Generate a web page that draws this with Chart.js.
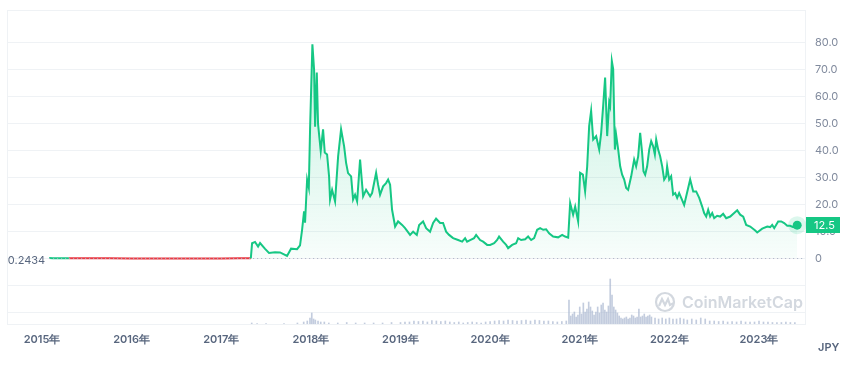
<!DOCTYPE html>
<html>
<head>
<meta charset="utf-8">
<script src="https://cdn.jsdelivr.net/npm/chart.js@4.4.1/dist/chart.umd.min.js"></script>
<style>
  html, body { margin: 0; padding: 0; background: #ffffff; }
  #wrap { width: 864px; height: 371px; position: relative; }
</style>
</head>
<body>
<div id="wrap"><canvas id="c" width="864" height="371"></canvas></div>
<script>
// ---------- DATA ----------
const BASE_PRICE = 0.2434;
const LAST_LABEL = '12.5';
const CURRENCY = 'JPY';
const WATERMARK = 'CoinMarketCap';
const yearTicks = [2015, 2016, 2017, 2018, 2019, 2020, 2021, 2022, 2023];
const priceTicks = [-20, -10, 0, 10, 20, 30, 40, 50, 60, 70, 80];

// dates as decimal years, prices in JPY
const dates = [
  2015.08, 2015.12, 2015.30, 2015.50, 2015.75, 2016.00, 2016.25, 2016.50, 2016.75, 2017.00, 2017.20, 2017.33,
  2017.344, 2017.377, 2017.411, 2017.433, 2017.489, 2017.533, 2017.600, 2017.656, 2017.734, 2017.779, 2017.846, 2017.879,
  2017.902, 2017.924, 2017.935, 2017.958, 2017.977, 2017.991, 2018.017, 2018.036, 2018.047, 2018.066, 2018.080, 2018.110,
  2018.136, 2018.155, 2018.181, 2018.203, 2018.214, 2018.237, 2018.270, 2018.304, 2018.337, 2018.371, 2018.393, 2018.415,
  2018.449, 2018.471, 2018.493, 2018.516, 2018.549, 2018.583, 2018.616, 2018.661, 2018.683, 2018.728, 2018.750, 2018.772,
  2018.806, 2018.839, 2018.862, 2018.884, 2018.906, 2018.940, 2018.973, 2019.018, 2019.051, 2019.107, 2019.141, 2019.182,
  2019.208, 2019.252, 2019.286, 2019.330, 2019.364, 2019.397, 2019.442, 2019.475, 2019.509, 2019.542, 2019.587, 2019.643,
  2019.688, 2019.721, 2019.743, 2019.777, 2019.821, 2019.844, 2019.888, 2019.922, 2019.967, 2020.000, 2020.045, 2020.078,
  2020.100, 2020.145, 2020.179, 2020.201, 2020.246, 2020.290, 2020.313, 2020.346, 2020.391, 2020.424, 2020.458, 2020.491,
  2020.525, 2020.558, 2020.592, 2020.625, 2020.658, 2020.703, 2020.759, 2020.804, 2020.837, 2020.871, 2020.893, 2020.926,
  2020.949, 2020.982, 2021.004, 2021.035, 2021.060, 2021.083, 2021.105, 2021.127, 2021.150, 2021.183, 2021.217, 2021.239,
  2021.261, 2021.283, 2021.306, 2021.328, 2021.339, 2021.358, 2021.373, 2021.392, 2021.406, 2021.429, 2021.451, 2021.473,
  2021.496, 2021.518, 2021.540, 2021.574, 2021.607, 2021.629, 2021.652, 2021.674, 2021.696, 2021.711, 2021.730, 2021.752,
  2021.775, 2021.797, 2021.819, 2021.838, 2021.853, 2021.875, 2021.897, 2021.920, 2021.942, 2021.964, 2021.975, 2021.998,
  2022.020, 2022.042, 2022.065, 2022.087, 2022.109, 2022.132, 2022.165, 2022.188, 2022.232, 2022.266, 2022.299, 2022.333,
  2022.366, 2022.388, 2022.411, 2022.433, 2022.455, 2022.478, 2022.500, 2022.533, 2022.567, 2022.600, 2022.634, 2022.679,
  2022.723, 2022.757, 2022.790, 2022.824, 2022.857, 2022.902, 2022.958, 2022.980, 2023.036, 2023.092, 2023.125, 2023.147,
  2023.170, 2023.214, 2023.248, 2023.281, 2023.315, 2023.348, 2023.382, 2023.426
];
const prices = [
  0.30, 0.25, 0.23, 0.22, 0.21, 0.20, 0.19, 0.17, 0.18, 0.20, 0.21, 0.22,
  5.8, 6.3, 4.6, 5.9, 3.7, 2.2, 2.5, 2.4, 1.1, 3.8, 3.6, 5.0,
  10.8, 17.6, 13.4, 29.4, 26.4, 48.0, 79.5, 70.0, 49.0, 69.0, 50.0, 40.0,
  48.0, 39.4, 38.7, 30.6, 22.0, 25.6, 21.3, 38.0, 48.0, 41.7, 35.6, 31.8,
  30.6, 22.0, 23.8, 21.3, 36.8, 23.2, 25.6, 23.2, 24.4, 31.9, 27.5, 23.8,
  26.9, 28.1, 29.4, 27.5, 18.2, 12.0, 13.9, 12.6, 11.4, 8.9, 10.1, 8.9,
  12.6, 13.9, 11.4, 10.1, 13.3, 14.9, 13.3, 13.3, 10.1, 8.9, 7.7, 7.0,
  6.4, 7.7, 6.4, 7.0, 7.7, 8.9, 7.0, 6.4, 5.2, 5.2, 5.8, 7.0,
  8.3, 6.4, 5.2, 4.0, 5.2, 5.8, 7.7, 7.0, 7.3, 8.3, 7.0, 7.7,
  10.8, 11.4, 10.8, 11.0, 9.5, 8.3, 8.0, 8.9, 8.3, 7.9, 20.7, 16.4,
  19.4, 13.9, 31.9, 31.2, 25.0, 34.3, 49.2, 54.8, 44.2, 45.5, 40.5, 46.7,
  56.6, 67.2, 45.5, 57.9, 56.6, 73.3, 70.3, 40.5, 46.0, 40.5, 34.3, 31.2,
  29.4, 26.3, 25.6, 30.6, 36.8, 34.3, 38.0, 46.7, 39.3, 32.5, 31.2, 34.3,
  40.5, 43.6, 41.7, 38.7, 44.2, 40.5, 38.0, 34.3, 29.4, 30.6, 34.3, 29.4,
  30.6, 23.8, 24.4, 22.6, 24.4, 22.6, 20.0, 23.2, 29.4, 25.0, 25.0, 22.6,
  19.4, 17.0, 15.7, 18.2, 15.7, 17.0, 15.1, 16.0, 15.7, 16.7, 15.1, 15.7,
  17.0, 18.0, 16.4, 15.7, 12.6, 12.0, 10.5, 9.8, 11.2, 12.0, 11.8, 12.6,
  11.4, 13.9, 13.9, 13.3, 12.3, 12.3, 11.8, 12.5
];

// relative trading volume (arbitrary units)
const volDates = [
  2017.34, 2017.40, 2017.50, 2017.70, 2017.85, 2017.92, 2017.96, 2017.99, 2018.01, 2018.03, 2018.05, 2018.08,
  2018.11, 2018.15, 2018.20, 2018.30, 2018.40, 2018.50, 2018.60, 2018.70, 2018.80, 2018.90, 2019.00, 2019.05,
  2019.10, 2019.15, 2019.20, 2019.25, 2019.30, 2019.35, 2019.40, 2019.45, 2019.50, 2019.55, 2019.60, 2019.65,
  2019.70, 2019.75, 2019.80, 2019.85, 2019.90, 2019.95, 2020.00, 2020.05, 2020.10, 2020.15, 2020.20, 2020.25,
  2020.30, 2020.35, 2020.40, 2020.45, 2020.50, 2020.55, 2020.60, 2020.65, 2020.70, 2020.75, 2020.80, 2020.85,
  2020.88, 2020.90, 2020.92, 2020.94, 2020.96, 2020.98, 2021.00, 2021.02, 2021.04, 2021.06, 2021.08, 2021.10,
  2021.12, 2021.14, 2021.16, 2021.18, 2021.20, 2021.22, 2021.24, 2021.26, 2021.28, 2021.30, 2021.32, 2021.34,
  2021.36, 2021.38, 2021.40, 2021.42, 2021.44, 2021.46, 2021.48, 2021.50, 2021.52, 2021.54, 2021.56, 2021.58,
  2021.60, 2021.62, 2021.64, 2021.66, 2021.68, 2021.70, 2021.72, 2021.74, 2021.76, 2021.78, 2021.80, 2021.84,
  2021.88, 2021.92, 2021.96, 2022.00, 2022.04, 2022.08, 2022.12, 2022.16, 2022.20, 2022.25, 2022.30, 2022.35,
  2022.40, 2022.45, 2022.50, 2022.55, 2022.60, 2022.65, 2022.70, 2022.75, 2022.80, 2022.85, 2022.90, 2022.95,
  2023.00, 2023.05, 2023.10, 2023.15, 2023.20, 2023.25, 2023.30, 2023.35, 2023.40
];
const volumes = [
  1, 0.5, 0.5, 0.5, 1, 2, 3, 6, 11, 5, 4, 3,
  2, 2, 1, 1, 1.5, 1, 1, 1, 1, 1.5, 1.5, 2,
  2, 3, 2.5, 3, 2, 3.5, 3, 2.5, 3, 2, 1.5, 2,
  1, 1.5, 2, 1.5, 1, 2, 2.5, 3, 3.5, 3, 4, 3.5,
  3, 3.5, 4, 3, 4, 3.5, 3, 3, 2.5, 2, 2.5, 3,
  24, 8, 10, 12, 7, 9, 17, 10, 21, 12, 15, 22,
  17, 13, 9, 12, 17, 11, 19, 21, 14, 12, 18, 45,
  29, 17, 14, 11, 8, 6, 5, 6, 7, 5, 6, 9,
  8, 6, 7, 15, 7, 8, 10, 7, 8, 9, 7, 6,
  5, 6, 5, 6, 5, 5, 6, 5, 4, 5, 4, 6,
  5, 3, 3, 2.5, 3, 2, 2.5, 2, 3, 2, 2, 2,
  3, 2, 2, 1.5, 1.5, 1.5, 2, 1.5, 1.5
];

// ---------- STYLE ----------
const GREEN = '#16c784';
const RED = '#ea3943';
const GRID = '#eff2f5';
const FONT = 'Inter, "Noto Sans", sans-serif';

const priceData = dates.map((d, i) => ({ x: d, y: prices[i] }));
const volData = volDates.map((d, i) => ({ x: d, y: volumes[i] }));

const overlay = {
  id: 'overlay',
  beforeDatasetsDraw(chart) {
    const { ctx, chartArea: a } = chart;
    ctx.save();
    ctx.strokeStyle = GRID;
    ctx.lineWidth = 1;
    ctx.strokeRect(a.left + 0.5, a.top + 0.5, a.right - a.left, a.bottom - a.top);
    ctx.restore();
  },
  afterDatasetsDraw(chart) {
    const { ctx, chartArea: a, scales } = chart;
    const xs = scales.x, ys = scales.y;
    const by = Math.round(ys.getPixelForValue(BASE_PRICE)) + 0.5;
    const x0 = xs.getPixelForValue(dates[0]);
    ctx.save();
    // dotted baseline
    ctx.strokeStyle = '#a6b0c3';
    ctx.setLineDash([1, 3]);
    ctx.lineWidth = 1;
    ctx.beginPath();
    ctx.moveTo(x0, by);
    ctx.lineTo(a.right, by);
    ctx.stroke();
    ctx.setLineDash([]);
    // baseline label
    ctx.fillStyle = '#58667e';
    ctx.font = '11px ' + FONT;
    ctx.textAlign = 'right';
    ctx.textBaseline = 'middle';
    ctx.fillText(String(BASE_PRICE), x0 - 4, by + 2);
    // watermark
    const wx = 665, wy = 302;
    ctx.strokeStyle = '#d3d8df';
    ctx.lineWidth = 2.2;
    ctx.beginPath();
    ctx.arc(wx, wy, 9, 0, Math.PI * 2);
    ctx.stroke();
    ctx.beginPath();
    ctx.moveTo(wx - 6, wy + 4);
    ctx.lineTo(wx - 3, wy - 3);
    ctx.lineTo(wx, wy + 3);
    ctx.lineTo(wx + 3, wy - 3);
    ctx.lineTo(wx + 5, wy + 3);
    ctx.lineTo(wx + 9, wy + 1);
    ctx.stroke();
    ctx.fillStyle = '#d3d8df';
    ctx.font = '600 16px ' + FONT;
    ctx.textAlign = 'left';
    ctx.fillText(WATERMARK, 682, wy + 1);
    // end point
    const li = prices.length - 1;
    const ex = xs.getPixelForValue(dates[li]);
    const ey = ys.getPixelForValue(prices[li]);
    ctx.fillStyle = 'rgba(22,199,132,0.15)';
    ctx.beginPath(); ctx.arc(ex, ey, 9, 0, Math.PI * 2); ctx.fill();
    ctx.fillStyle = GREEN;
    ctx.beginPath(); ctx.arc(ex, ey, 4.5, 0, Math.PI * 2); ctx.fill();
    ctx.restore();
  },
  afterDraw(chart) {
    const { ctx, chartArea: a, scales } = chart;
    const li = prices.length - 1;
    const ey = scales.y.getPixelForValue(prices[li]);
    ctx.save();
    ctx.fillStyle = GREEN;
    ctx.fillRect(a.right + 1, Math.round(ey) - 8, 34, 16);
    ctx.fillStyle = '#ffffff';
    ctx.font = '11px ' + FONT;
    ctx.textAlign = 'left';
    ctx.textBaseline = 'middle';
    ctx.fillText(LAST_LABEL, a.right + 9, Math.round(ey) + 0.5);
    ctx.fillStyle = '#58667e';
    ctx.font = '600 11px ' + FONT;
    ctx.fillText(CURRENCY, a.right + 13, 348);
    ctx.restore();
  }
};

new Chart(document.getElementById('c'), {
  type: 'line',
  data: {
    datasets: [
      {
        type: 'line',
        data: priceData,
        yAxisID: 'y',
        borderColor: GREEN,
        borderWidth: 2,
        pointRadius: 0,
        tension: 0,
        order: 1,
        segment: {
          borderColor: c => (c.p0.parsed.y < BASE_PRICE && c.p1.parsed.y < BASE_PRICE) ? RED : GREEN
        },
        backgroundColor: c => {
          const chart = c.chart;
          const area = chart.chartArea;
          if (!area || !chart.scales.y) return 'rgba(22,199,132,0.1)';
          const g = chart.ctx.createLinearGradient(0, area.top, 0, chart.scales.y.getPixelForValue(BASE_PRICE));
          g.addColorStop(0, 'rgba(22,199,132,0.28)');
          g.addColorStop(1, 'rgba(22,199,132,0.03)');
          return g;
        },
        fill: { target: { value: BASE_PRICE }, below: 'rgba(234,57,67,0.08)' }
      },
      {
        type: 'bar',
        data: volData,
        yAxisID: 'yVol',
        backgroundColor: 'rgba(170,182,208,0.7)',
        barThickness: 1,
        order: 2
      }
    ]
  },
  options: {
    responsive: false,
    animation: false,
    devicePixelRatio: 1,
    layout: { padding: { left: 7, top: 10, right: 0, bottom: 0 } },
    plugins: { legend: { display: false }, tooltip: { enabled: false } },
    scales: {
      x: {
        type: 'linear',
        offset: false,
        min: 2014.6095,
        max: 2023.5133,
        afterBuildTicks: s => { s.ticks = yearTicks.map(v => ({ value: v })); },
        afterFit: s => { s.height = 47; s.paddingLeft = 0; s.paddingRight = 0; },
        ticks: {
          callback: v => v + '年',
          color: '#58667e',
          font: { family: FONT, size: 11, weight: '600' },
          padding: 9,
          maxRotation: 0,
          autoSkip: false
        },
        grid: { display: false, drawTicks: false, offset: false },
        border: { display: true, color: GRID }
      },
      y: {
        position: 'right',
        min: -24.1,
        max: 92.2,
        afterBuildTicks: s => { s.ticks = priceTicks.map(v => ({ value: v })); },
        afterFit: s => { s.width = 59; s.paddingTop = 0; s.paddingBottom = 0; },
        ticks: {
          callback: v => v < 0 ? '' : (v === 0 ? '0' : v.toFixed(1)),
          color: '#808a9d',
          font: { family: FONT, size: 11 },
          padding: 10
        },
        grid: { color: GRID, drawTicks: false },
        border: { display: true, color: GRID }
      },
      yVol: {
        display: false,
        min: 0,
        max: 314
      }
    }
  },
  plugins: [overlay]
});
</script>
</body>
</html>
